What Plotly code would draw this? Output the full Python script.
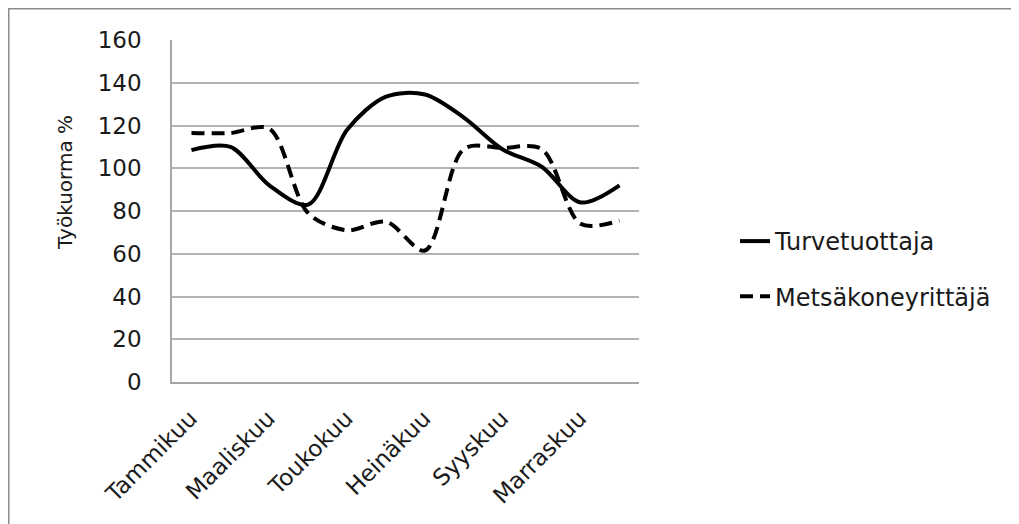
import plotly.graph_objects as go

months = ["Tammikuu", "Helmikuu", "Maaliskuu", "Huhtikuu", "Toukokuu", "Kesäkuu",
          "Heinäkuu", "Elokuu", "Syyskuu", "Lokakuu", "Marraskuu", "Joulukuu"]
tick_months = ["Tammikuu", "Maaliskuu", "Toukokuu", "Heinäkuu", "Syyskuu", "Marraskuu"]
turvetuottaja = [108.5, 110, 92, 83, 118, 133.5, 134.5, 123.7, 108.8, 100.7, 84, 92]
metsakoneyrittaja = [116.5, 116.5, 118.5, 79, 71, 75, 61.5, 109, 109.5, 109, 74, 75.5]
y_ticks = [0, 20, 40, 60, 80, 100, 120, 140, 160]

FONT = "DejaVu Sans"
OFF = 8  # page body margin
W, H = 1019 - OFF, 524 - OFF
L, R, T, B = 172 - OFF, 639 - OFF, 40 - OFF, 382 - OFF

fig = go.Figure()
fig.add_trace(go.Scatter(
    x=months, y=turvetuottaja, name="Turvetuottaja", mode="lines",
    line=dict(color="black", width=4, shape="spline", smoothing=0.9),
    legendgroup="a"))
fig.add_trace(go.Scatter(
    x=months, y=metsakoneyrittaja, name="Metsäkoneyrittäjä", mode="lines",
    line=dict(color="black", width=4, shape="spline", smoothing=0.9, dash="13px,7px"),
    legendgroup="b"))

def px_x(p):
    return (p - OFF - L) / (R - L)

def px_y(p):
    return (B - (p - OFF)) / (B - T)

fig.update_layout(
    width=W, height=H,
    margin=dict(l=L, r=W - R, t=T, b=H - B, autoexpand=False),
    paper_bgcolor="white", plot_bgcolor="white",
    font=dict(family=FONT, color="#1a1a1a"),
    showlegend=True,
    legend=dict(x=px_x(735), y=px_y(219), xanchor="left", yanchor="top",
                font=dict(family=FONT, size=24, color="#1a1a1a"),
                tracegroupgap=21, bgcolor="rgba(0,0,0,0)"),
    xaxis=dict(type="category", categoryorder="array", categoryarray=months,
               range=[-0.5, 11.5], tickmode="array", tickvals=tick_months,
               ticktext=tick_months, tickangle=-45, showgrid=False,
               showline=True, linecolor="#a6a6a6", linewidth=1.5,
               ticks="", ticklabelstandoff=12, ticklabelshift=-1,
               tickfont=dict(family=FONT, size=23, color="#1a1a1a"),
               zeroline=False, fixedrange=True),
    yaxis=dict(range=[0, 160], tickmode="array", tickvals=y_ticks,
               showgrid=True, gridcolor="#b3b3b3", gridwidth=1.5,
               showline=True, linecolor="#a6a6a6", linewidth=1.5,
               ticks="", ticklabelstandoff=24,
               tickfont=dict(family=FONT, size=23, color="#1a1a1a"),
               zeroline=False, fixedrange=True),
    annotations=[dict(text="Työkuorma %", xref="paper", yref="paper",
                      x=px_x(65), y=px_y(183), xanchor="center", yanchor="middle",
                      textangle=-90, showarrow=False,
                      font=dict(family=FONT, size=20, color="#1a1a1a"))],
    shapes=[dict(type="rect", xref="paper", yref="paper",
                 x0=px_x(8.5), x1=px_x(1040), y0=px_y(545), y1=px_y(8.5),
                 line=dict(color="#8c8c8c", width=2), layer="below")],
)

fig.write_html("out.html")
